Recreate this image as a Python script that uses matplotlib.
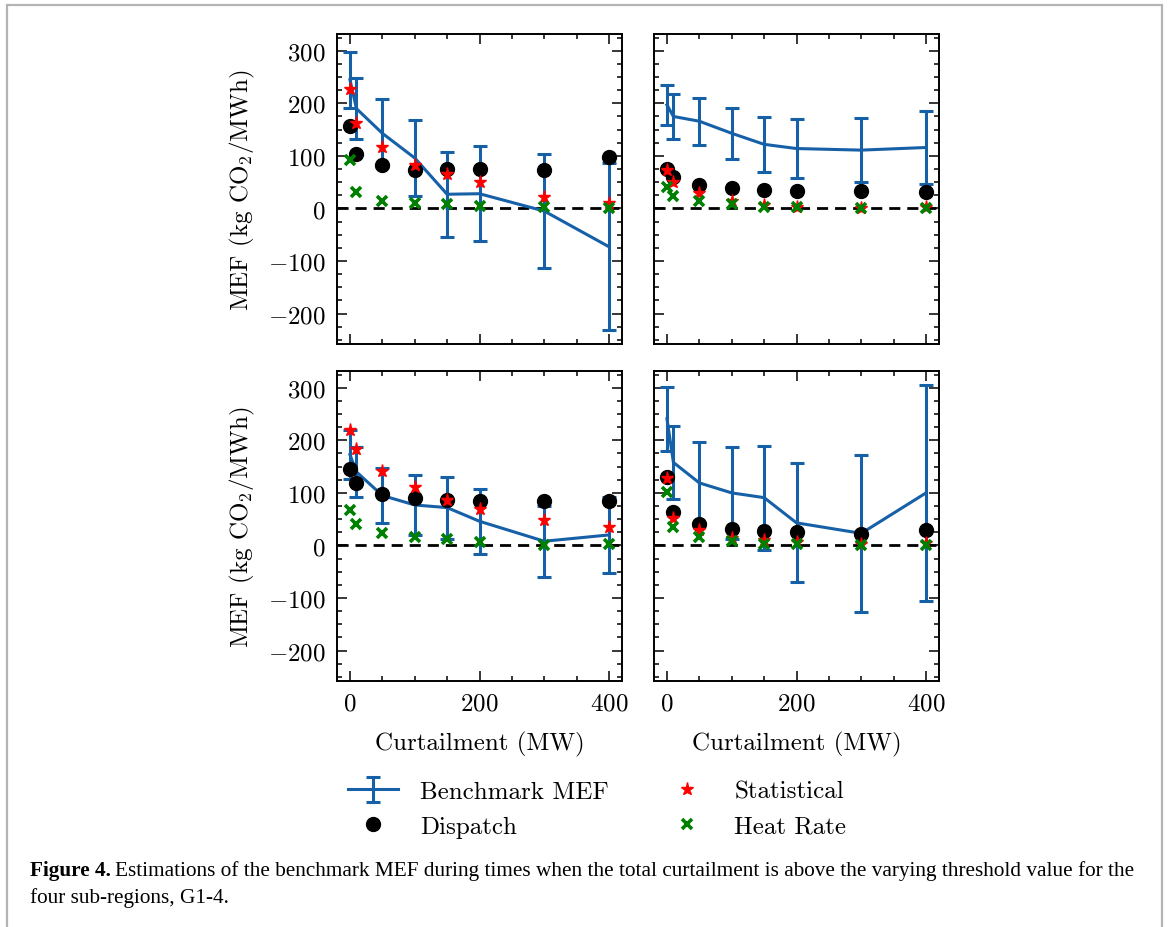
import matplotlib
matplotlib.use("Agg")
import matplotlib.pyplot as plt
from matplotlib.ticker import MultipleLocator
from matplotlib.patches import Rectangle

plt.rcParams.update({
    "font.family": "serif",
    "font.serif": ["cmr10"],
    "mathtext.fontset": "cm",
    "axes.formatter.use_mathtext": True,
    "axes.unicode_minus": True,
})

curtailment = [0, 10, 50, 100, 150, 200, 300, 400]

g1_bench = [245, 190, 143, 96, 27, 28, -5, -73]
g1_err = [53, 58, 65, 72, 81, 90, 108, 159]
g1_dispatch = [157, 103, 83, 73, 75, 76, 73, 98]
g1_stat = [227, 162, 116, 83, 65, 51, 22, 11]
g1_heat = [92, 32, 14, 10, 9, 5, 2, 0]

g2_bench = [197, 175, 166, 143, 122, 114, 111, 116]
g2_err = [38, 42, 45, 49, 52, 56, 61, 70]
g2_dispatch = [76, 59, 44, 38, 35, 33, 33, 32]
g2_stat = [73, 51, 29, 15, 6, 3, 1, 2]
g2_heat = [41, 24, 14, 9, 3, 3, 1, 0]

g3_bench = [173, 140, 95, 77, 72, 46, 8, 20]
g3_err = [46, 47, 52, 57, 59, 62, 68, 73]
g3_dispatch = [146, 119, 97, 91, 87, 84, 84, 84]
g3_stat = [220, 184, 142, 111, 87, 70, 48, 36]
g3_heat = [68, 41, 24, 16, 13, 6, 0, 2]

g4_bench = [241, 158, 119, 100, 91, 43, 23, 100]
g4_err = [61, 69, 77, 88, 99, 113, 150, 205]
g4_dispatch = [131, 64, 41, 32, 27, 26, 22, 30]
g4_stat = [128, 53, 29, 15, 11, 7, 3, 4]
g4_heat = [102, 35, 16, 9, 3, 3, 0, 0]

panels = [
    (g1_bench, g1_err, g1_dispatch, g1_stat, g1_heat),
    (g2_bench, g2_err, g2_dispatch, g2_stat, g2_heat),
    (g3_bench, g3_err, g3_dispatch, g3_stat, g3_heat),
    (g4_bench, g4_err, g4_dispatch, g4_stat, g4_heat),
]

W, H = 1168, 928
fig = plt.figure(figsize=(W / 100, H / 100), dpi=100)

# outer grey frame
fig.patches.append(Rectangle((7 / W, -0.01), (1162 - 7) / W, 1 - 6 / H + 0.01,
                             transform=fig.transFigure, fill=False,
                             edgecolor="#b4b4b4", lw=1.6, zorder=0))

boxes = [
    (337, 35), (654, 35),
    (337, 372), (654, 372),
]
aw, ah = 285, 310
blue = "#1660A8"
axes = []
for i, ((px, py), (bench, err, disp, stat, heat)) in enumerate(zip(boxes, panels)):
    ax = fig.add_axes([px / W, (H - py - ah) / H, aw / W, ah / H])
    axes.append(ax)
    ax.axhline(0, color="black", ls=(0, (4, 2.5)), lw=2.0, zorder=1)
    eb = ax.errorbar(curtailment, bench, yerr=err, color=blue, lw=2.2,
                     capsize=5, capthick=2.2, elinewidth=2.2, zorder=2,
                     label="Benchmark MEF")
    d = ax.plot(curtailment, disp, "o", color="black", ms=10, zorder=3,
                label="Dispatch")[0]
    s = ax.plot(curtailment, stat, "*", color="red", ms=9.5, zorder=4,
                label="Statistical")[0]
    h = ax.plot(curtailment, heat, "x", color="green", ms=7, mew=2.6, zorder=5,
                label="Heat Rate")[0]
    ax.set_xlim(-20, 420)
    ax.set_ylim(-258, 332)
    ax.xaxis.set_major_locator(MultipleLocator(200))
    ax.xaxis.set_minor_locator(MultipleLocator(50))
    ax.yaxis.set_major_locator(MultipleLocator(100))
    ax.yaxis.set_minor_locator(MultipleLocator(25))
    ax.tick_params(which="both", direction="in", top=True, right=True,
                   labelsize=18, width=1.1)
    ax.tick_params(which="major", length=7, pad=8)
    ax.tick_params(which="minor", length=3.5)
    for sp in ax.spines.values():
        sp.set_linewidth(1.4)
    if i % 2 == 1:
        ax.tick_params(labelleft=False)
    else:
        ax.set_ylabel(r"MEF (kg CO$_2$/MWh)", fontsize=18, labelpad=8)
    if i < 2:
        ax.tick_params(labelbottom=False)
    else:
        ax.set_xlabel("Curtailment (MW)", fontsize=18, labelpad=12)
    handles = [eb, d, s, h]

fig.legend(handles, ["Benchmark MEF", "Dispatch", "Statistical", "Heat Rate"],
           ncol=2, frameon=False, fontsize=18, loc="center",
           bbox_to_anchor=(597 / W, 1 - 810 / H), columnspacing=2.1,
           handlelength=2.0, labelspacing=0.5, handletextpad=0.9)

# caption
renderer = fig.canvas.get_renderer()
cap_kw = dict(family="Liberation Serif", fontsize=15.35, va="baseline")
x0 = 30 / W
y1 = 1 - 876 / H
y2 = 1 - 903 / H
t = fig.text(x0, y1, "Figure 4.", fontweight="bold", **cap_kw)
bb = t.get_window_extent(renderer)
fig.text((bb.x1 + 4) / W, y1,
         "Estimations of the benchmark MEF during times when the total curtailment is above the varying threshold value for the",
         **cap_kw)
fig.text(x0, y2, "four sub-regions, G1-4.", **cap_kw)

fig.savefig("out.png", dpi=100)
